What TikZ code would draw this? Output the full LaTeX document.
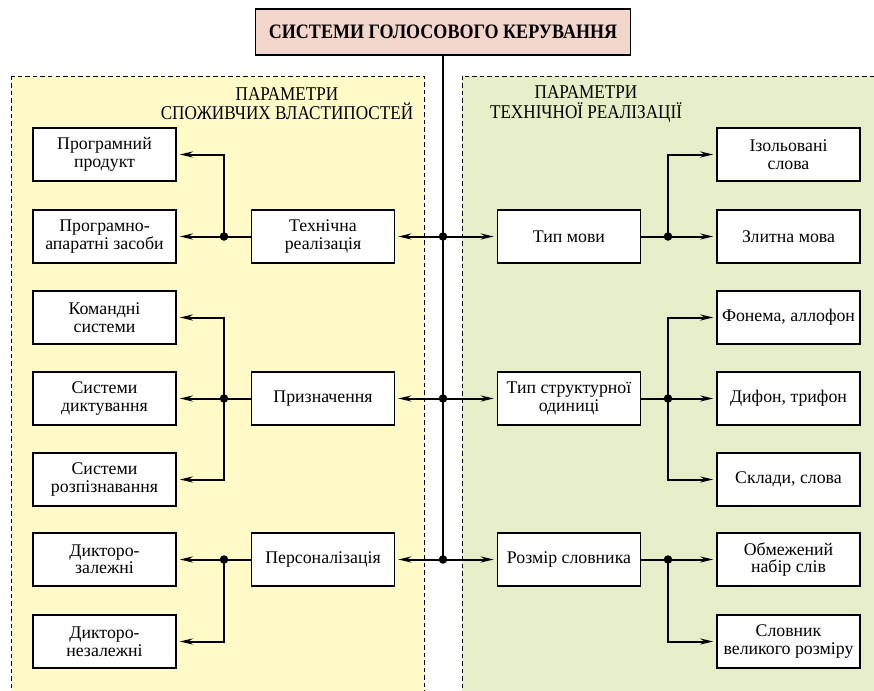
\documentclass[tikz,border=0pt]{standalone}
\usepackage{fontspec}
\setmainfont{Liberation Serif}
\newfontfamily\hdrfont[FakeStretch=0.88]{Liberation Serif}
\newfontfamily\ttlfont[FakeStretch=0.88]{Liberation Serif}
\usetikzlibrary{arrows.meta}
\definecolor{ttlfill}{RGB}{242,214,203}
\definecolor{yelfill}{RGB}{255,250,200}
\definecolor{grnfill}{RGB}{229,238,201}
\begin{document}
\begin{tikzpicture}[x=1pt,y=-1pt,
 box/.style={draw, line width=1.5pt, fill=white, minimum width=143pt, minimum height=53pt, inner sep=1pt, align=center, font=\fontsize{17.8}{17.5}\selectfont},
 conn/.style={line width=2pt},
 arr/.style={conn, -{Stealth[length=13pt,width=6pt]}, shorten >=3pt},
 dot/.style={circle, fill=black, inner sep=0pt, minimum size=8.5pt},
 panel/.style={draw, line width=0.9pt, dash pattern=on 4.5pt off 3pt},
 hdr/.style={anchor=base, inner sep=0pt, font=\hdrfont\fontsize{19.5}{19.5}\selectfont}]
\useasboundingbox (0,0) rectangle (874,690);
\fill[white] (0,0) rectangle (874,690);
\draw[panel, fill=yelfill] (11,76) rectangle (424,700);
\draw[panel, fill=grnfill] (462,76) rectangle (884,700);

\node[draw, line width=1.5pt, fill=ttlfill, minimum width=375pt, minimum height=46pt, font=\ttlfont\bfseries\fontsize{20.5}{20.5}\selectfont] (title) at (443,32) {СИСТЕМИ ГОЛОСОВОГО КЕРУВАННЯ};

\node[hdr] (hl1) at (287,100) {ПАРАМЕТРИ};
\node[hdr] (hl2) at (287,119) {СПОЖИВЧИХ ВЛАСТИПОСТЕЙ};
\node[hdr] (hr1) at (586,99) {ПАРАМЕТРИ};
\node[hdr] (hr2) at (586,118) {ТЕХНІЧНОЇ РЕАЛІЗАЦІЇ};

% left leaves
\node[box] (l1) at (104.5,154.5) {Програмний\\продукт};
\node[box] (l2) at (104.5,236.5) {Програмно-\\апаратні засоби};
\node[box] (l3) at (104.5,317.5) {Командні\\системи};
\node[box] (l4) at (104.5,398.5) {Системи\\диктування};
\node[box] (l5) at (104.5,479.5) {Системи\\розпізнавання};
\node[box] (l6) at (104.5,559.5) {Дикторо-\\залежні};
\node[box] (l7) at (104.5,641.5) {Дикторо-\\незалежні};
% left middle
\node[box] (m1) at (323,236.5) {Технічна\\реалізація};
\node[box] (m2) at (323,398.5) {Призначення};
\node[box] (m3) at (323,559.5) {Персоналізація};
% right middle
\node[box] (n1) at (569,236.5) {Тип мови};
\node[box] (n2) at (569,398.5) {Тип структурної\\одиниці};
\node[box] (n3) at (569,559.5) {Розмір словника};
% right leaves
\node[box] (r1) at (788.5,154.5) {Ізольовані\\слова};
\node[box] (r2) at (788.5,236.5) {Злитна мова};
\node[box] (r3) at (788.5,317.5) {Фонема, аллофон};
\node[box] (r4) at (788.5,398.5) {Дифон, трифон};
\node[box] (r5) at (788.5,479.5) {Склади, слова};
\node[box] (r6) at (788.5,559.5) {Обмежений\\набір слів};
\node[box] (r7) at (788.5,641.5) {Словник\\великого розміру};

% dots
\node[dot] (t1) at (443,236.5) {};
\node[dot] (t2) at (443,398.5) {};
\node[dot] (t3) at (443,559.5) {};
\node[dot] (ld1) at (224,236.5) {};
\node[dot] (ld2) at (224,398.5) {};
\node[dot] (ld3) at (224,559.5) {};
\node[dot] (rd1) at (668,236.5) {};
\node[dot] (rd2) at (668,398.5) {};
\node[dot] (rd3) at (668,559.5) {};

% trunk
\draw[conn] (title.south) -- (t3.center);
\draw[arr] (t1.center) -- (m1.east);
\draw[arr] (t2.center) -- (m2.east);
\draw[arr] (t3.center) -- (m3.east);
\draw[arr] (t1.center) -- (n1.west);
\draw[arr] (t2.center) -- (n2.west);
\draw[arr] (t3.center) -- (n3.west);

% left branches
\draw[conn] (m1.west) -- (ld1.center);
\draw[arr] (ld1.center) |- (l1.east);
\draw[arr] (ld1.center) -- (l2.east);
\draw[conn] (m2.west) -- (ld2.center);
\draw[arr] (ld2.center) |- (l3.east);
\draw[arr] (ld2.center) -- (l4.east);
\draw[arr] (ld2.center) |- (l5.east);
\draw[conn] (m3.west) -- (ld3.center);
\draw[arr] (ld3.center) -- (l6.east);
\draw[arr] (ld3.center) |- (l7.east);

% right branches
\draw[conn] (n1.east) -- (rd1.center);
\draw[arr] (rd1.center) |- (r1.west);
\draw[arr] (rd1.center) -- (r2.west);
\draw[conn] (n2.east) -- (rd2.center);
\draw[arr] (rd2.center) |- (r3.west);
\draw[arr] (rd2.center) -- (r4.west);
\draw[arr] (rd2.center) |- (r5.west);
\draw[conn] (n3.east) -- (rd3.center);
\draw[arr] (rd3.center) -- (r6.west);
\draw[arr] (rd3.center) |- (r7.west);
\end{tikzpicture}
\end{document}
